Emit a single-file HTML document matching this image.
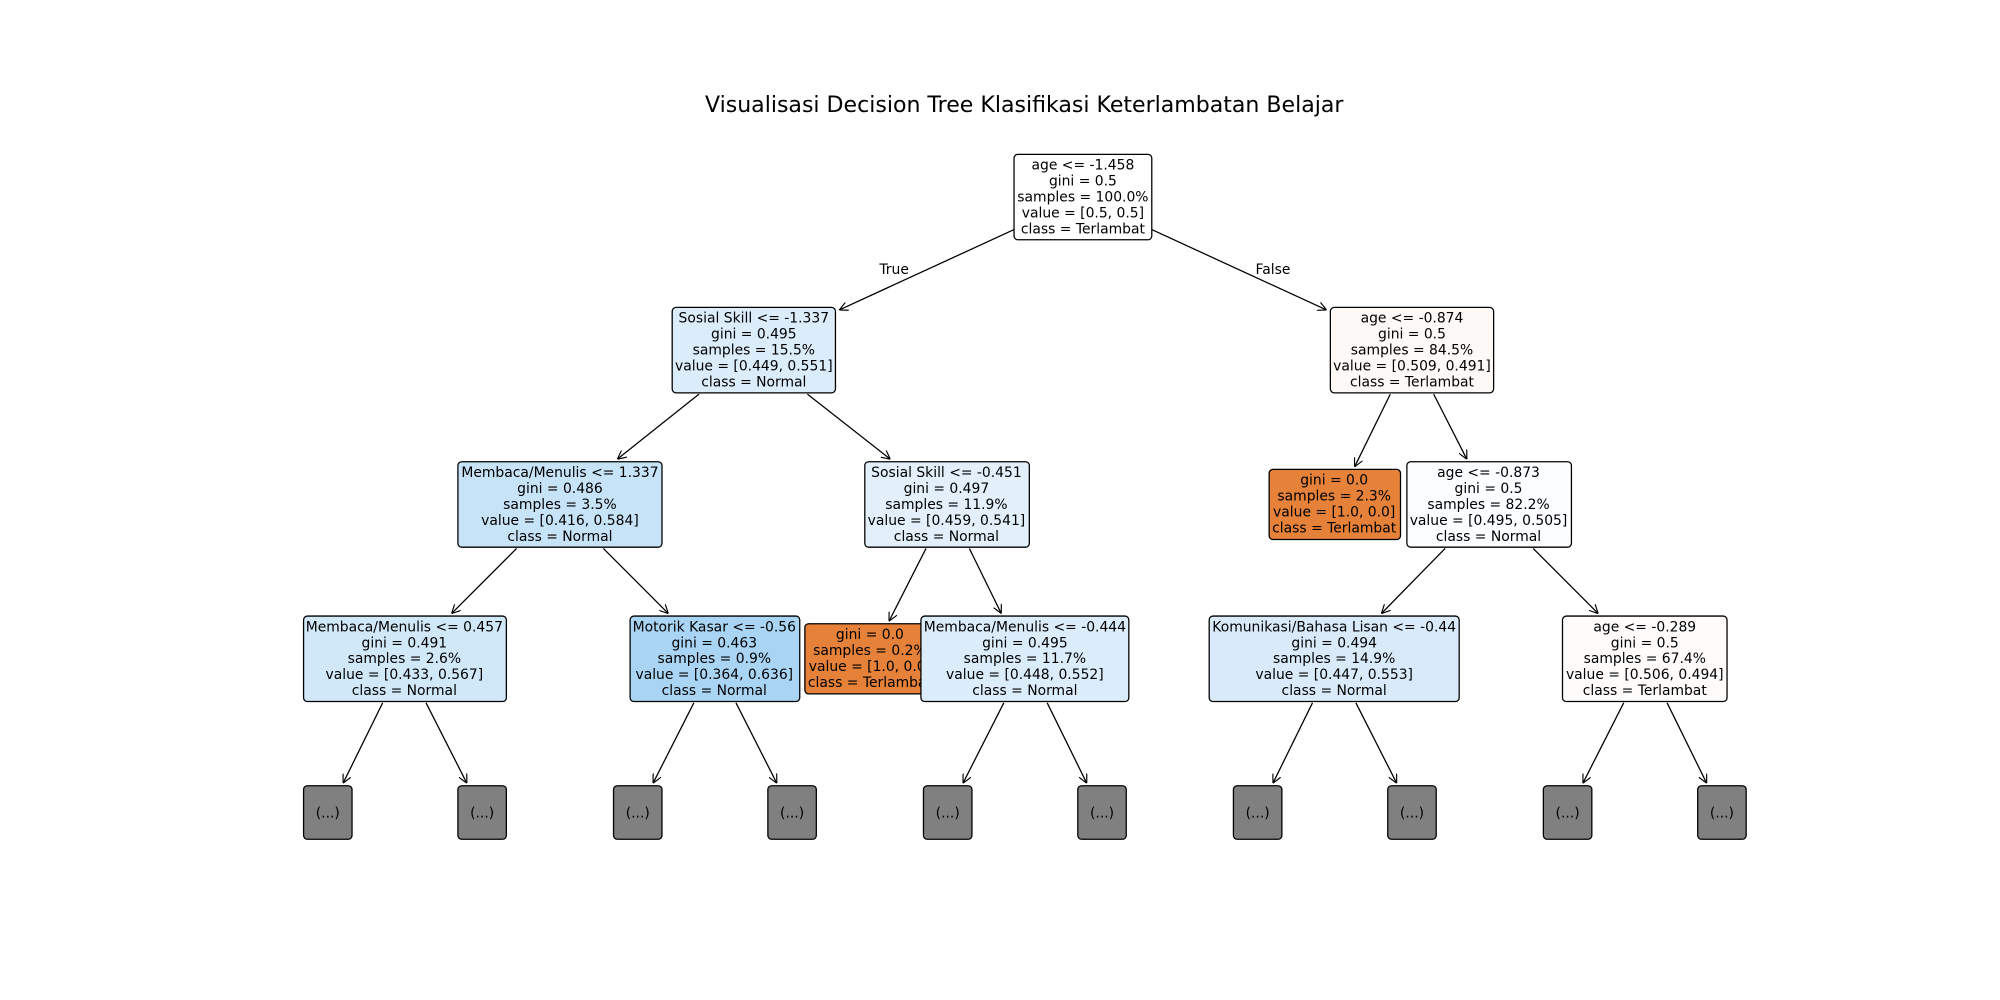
<!DOCTYPE html>
<html><head><meta charset="utf-8"><style>
html,body{margin:0;padding:0;background:#fff;}
svg{display:block;}
text{font-family:"DejaVu Sans","Liberation Sans",sans-serif;font-size:10.9px;fill:#000;}
</style></head><body>
<svg width="2000" height="1000" viewBox="0 0 1568 784" xmlns="http://www.w3.org/2000/svg">
<defs><marker id="a" viewBox="0 0 10 10" refX="10" refY="5" markerWidth="7" markerHeight="7" orient="auto-start-reverse" markerUnits="userSpaceOnUse"><path d="M0,0 L10,5 L0,10" fill="none" stroke="#000" stroke-width="1.3"/></marker></defs>
<text x="803" y="88" text-anchor="middle" style="font-size:17.3px">Visualisasi Decision Tree Klasifikasi Keterlambatan Belajar</text>
<g stroke="#000" stroke-width="1" marker-end="url(#a)">
<line x1="795" y1="180" x2="658" y2="243"/>
<line x1="903" y1="180" x2="1040" y2="243"/>
<line x1="548" y1="309" x2="484" y2="360"/>
<line x1="633" y1="309" x2="698" y2="360"/>
<line x1="1090" y1="309" x2="1062" y2="366"/>
<line x1="1124" y1="309" x2="1150" y2="360"/>
<line x1="405" y1="430" x2="354" y2="481"/>
<line x1="473" y1="430" x2="524" y2="481"/>
<line x1="726" y1="430" x2="697" y2="487"/>
<line x1="760" y1="430" x2="785" y2="481"/>
<line x1="1133" y1="430" x2="1083" y2="481"/>
<line x1="1202" y1="430" x2="1253" y2="481"/>
<line x1="300" y1="551" x2="269" y2="614"/>
<line x1="334" y1="551" x2="366" y2="614"/>
<line x1="544" y1="551" x2="512" y2="614"/>
<line x1="577" y1="551" x2="609" y2="614"/>
<line x1="787" y1="551" x2="755" y2="614"/>
<line x1="821" y1="551" x2="852" y2="614"/>
<line x1="1029" y1="551" x2="998" y2="614"/>
<line x1="1063" y1="551" x2="1095" y2="614"/>
<line x1="1273" y1="551" x2="1241" y2="614"/>
<line x1="1307" y1="551" x2="1338" y2="614"/>
</g>
<text x="701" y="215" text-anchor="middle">True</text>
<text x="998" y="215" text-anchor="middle">False</text>

<g stroke="#000" stroke-width="1">
<rect x="795" y="121" width="108" height="67" rx="3" fill="#ffffff"/>
<rect x="527" y="241" width="128" height="67" rx="3" fill="#dbedfa"/>
<rect x="1043" y="241" width="128" height="67" rx="3" fill="#fdf9f6"/>
<rect x="359" y="362" width="160" height="67" rx="3" fill="#c6e3f7"/>
<rect x="678" y="362" width="129" height="67" rx="3" fill="#e3f0fb"/>
<rect x="995" y="368" width="103" height="55" rx="3" fill="#e58139"/>
<rect x="1103" y="362" width="129" height="67" rx="3" fill="#fbfdff"/>
<rect x="238" y="483" width="159" height="67" rx="3" fill="#d1e8f9"/>
<rect x="494" y="483" width="133" height="67" rx="3" fill="#a9d4f4"/>
<rect x="631" y="489" width="104" height="55" rx="3" fill="#e58139"/>
</g>
<g text-anchor="middle">
<text x="849" y="133">age &lt;= -1.458</text><text x="849" y="145.5">gini = 0.5</text><text x="849" y="158">samples = 100.0%</text><text x="849" y="170.5">value = [0.5, 0.5]</text><text x="849" y="183">class = Terlambat</text>
<text x="591" y="253">Sosial Skill &lt;= -1.337</text><text x="591" y="265.5">gini = 0.495</text><text x="591" y="278">samples = 15.5%</text><text x="591" y="290.5">value = [0.449, 0.551]</text><text x="591" y="303">class = Normal</text>
<text x="1107" y="253">age &lt;= -0.874</text><text x="1107" y="265.5">gini = 0.5</text><text x="1107" y="278">samples = 84.5%</text><text x="1107" y="290.5">value = [0.509, 0.491]</text><text x="1107" y="303">class = Terlambat</text>
<text x="439" y="374">Membaca/Menulis &lt;= 1.337</text><text x="439" y="386.5">gini = 0.486</text><text x="439" y="399">samples = 3.5%</text><text x="439" y="411.5">value = [0.416, 0.584]</text><text x="439" y="424">class = Normal</text>
<text x="742" y="374">Sosial Skill &lt;= -0.451</text><text x="742" y="386.5">gini = 0.497</text><text x="742" y="399">samples = 11.9%</text><text x="742" y="411.5">value = [0.459, 0.541]</text><text x="742" y="424">class = Normal</text>
<text x="1046" y="380">gini = 0.0</text><text x="1046" y="392.5">samples = 2.3%</text><text x="1046" y="405">value = [1.0, 0.0]</text><text x="1046" y="417.5">class = Terlambat</text>
<text x="1167" y="374">age &lt;= -0.873</text><text x="1167" y="386.5">gini = 0.5</text><text x="1167" y="399">samples = 82.2%</text><text x="1167" y="411.5">value = [0.495, 0.505]</text><text x="1167" y="424">class = Normal</text>
<text x="317" y="495">Membaca/Menulis &lt;= 0.457</text><text x="317" y="507.5">gini = 0.491</text><text x="317" y="520">samples = 2.6%</text><text x="317" y="532.5">value = [0.433, 0.567]</text><text x="317" y="545">class = Normal</text>
<text x="560" y="495">Motorik Kasar &lt;= -0.56</text><text x="560" y="507.5">gini = 0.463</text><text x="560" y="520">samples = 0.9%</text><text x="560" y="532.5">value = [0.364, 0.636]</text><text x="560" y="545">class = Normal</text>
<text x="682" y="501">gini = 0.0</text><text x="682" y="513.5">samples = 0.2%</text><text x="682" y="526">value = [1.0, 0.0]</text><text x="682" y="538.5">class = Terlambat</text>
</g>
<g stroke="#000" stroke-width="1">
<rect x="722" y="483" width="163" height="67" rx="3" fill="#dbecfa"/>
<rect x="948" y="483" width="196" height="67" rx="3" fill="#d9ebfa"/>
<rect x="1225" y="483" width="129" height="67" rx="3" fill="#fefcfb"/>
</g>
<g text-anchor="middle">
<text x="803.5" y="495">Membaca/Menulis &lt;= -0.444</text><text x="803.5" y="507.5">gini = 0.495</text><text x="803.5" y="520">samples = 11.7%</text><text x="803.5" y="532.5">value = [0.448, 0.552]</text><text x="803.5" y="545">class = Normal</text>
<text x="1046" y="495">Komunikasi/Bahasa Lisan &lt;= -0.44</text><text x="1046" y="507.5">gini = 0.494</text><text x="1046" y="520">samples = 14.9%</text><text x="1046" y="532.5">value = [0.447, 0.553]</text><text x="1046" y="545">class = Normal</text>
<text x="1289.5" y="495">age &lt;= -0.289</text><text x="1289.5" y="507.5">gini = 0.5</text><text x="1289.5" y="520">samples = 67.4%</text><text x="1289.5" y="532.5">value = [0.506, 0.494]</text><text x="1289.5" y="545">class = Terlambat</text>
</g>
<g stroke="#000" stroke-width="1" fill="#808080">
<rect x="238" y="616" width="38" height="42" rx="3"/>
<rect x="359" y="616" width="38" height="42" rx="3"/>
<rect x="481" y="616" width="38" height="42" rx="3"/>
<rect x="602" y="616" width="38" height="42" rx="3"/>
<rect x="724" y="616" width="38" height="42" rx="3"/>
<rect x="845" y="616" width="38" height="42" rx="3"/>
<rect x="967" y="616" width="38" height="42" rx="3"/>
<rect x="1088" y="616" width="38" height="42" rx="3"/>
<rect x="1210" y="616" width="38" height="42" rx="3"/>
<rect x="1331" y="616" width="38" height="42" rx="3"/>
</g>
<g text-anchor="middle">
<text x="257" y="641">(...)</text><text x="378" y="641">(...)</text><text x="500" y="641">(...)</text><text x="621" y="641">(...)</text><text x="743" y="641">(...)</text><text x="864" y="641">(...)</text><text x="986" y="641">(...)</text><text x="1107" y="641">(...)</text><text x="1229" y="641">(...)</text><text x="1350" y="641">(...)</text>
</g>
</svg>
</body></html>
